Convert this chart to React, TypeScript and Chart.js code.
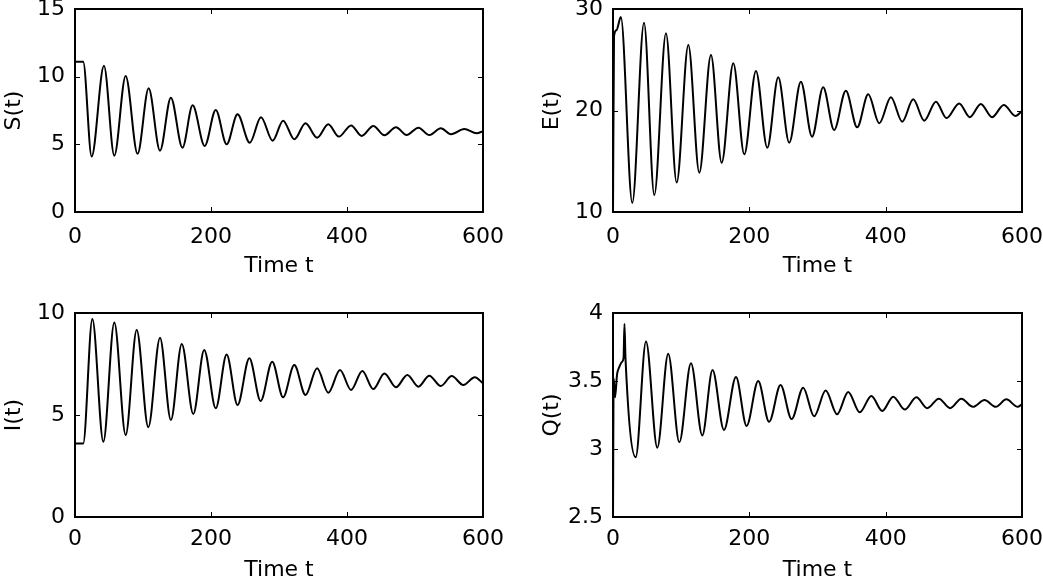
import React, { useEffect, useRef } from "react";
import { Chart, registerables } from "chart.js";

Chart.register(...registerables);

const X_TICKS = [0, 200, 400, 600];

const S_T = [0, 12, 24.5, 42.6, 57.8, 74.5, 92, 108.3, 125, 141, 158, 173, 190.7, 207, 223, 239, 257, 273.5, 290.7, 306, 322.5, 339, 356, 372.5, 388, 406, 421.6, 438.7, 455, 472, 487.7, 505, 521, 538, 553, 572.5, 590.7, 600];
const S_V = [11.1, 11.1, 4.1, 10.8, 4.16, 10.05, 4.3, 9.14, 4.53, 8.45, 4.75, 7.88, 4.88, 7.54, 5.0, 7.22, 5.12, 7.0, 5.27, 6.75, 5.37, 6.56, 5.49, 6.48, 5.57, 6.4, 5.62, 6.36, 5.67, 6.26, 5.69, 6.23, 5.69, 6.18, 5.74, 6.13, 5.81, 5.98];
const S_TICKS = [0, 5, 10, 15];

const E_T = [0, 1.5, 5, 11.5, 28.3, 45.5, 60.6, 77.7, 93.4, 110.5, 126.6, 143.7, 159.4, 176.5, 192.6, 209.7, 226.3, 242.4, 258.5, 275.6, 292, 308.3, 324.4, 341.6, 358.2, 374.4, 390.6, 407.7, 424.3, 440.4, 456.6, 473.7, 489.3, 507.8, 523.5, 539.6, 556, 573.3, 590.5, 600];
const E_V = [10, 27.3, 27.9, 29.2, 10.9, 28.65, 11.67, 27.6, 12.9, 26.45, 13.87, 25.47, 14.86, 24.65, 15.68, 23.9, 16.33, 23.27, 16.83, 22.84, 17.42, 22.28, 18.08, 21.95, 18.34, 21.6, 18.74, 21.3, 18.9, 21.1, 19.0, 20.87, 19.25, 20.7, 19.34, 20.64, 19.34, 20.54, 19.46, 19.95];
const E_TICKS = [10, 20, 30];

const I_T = [0, 12, 25.5, 41.7, 57.8, 74.5, 90.7, 107.8, 125, 141, 157, 174, 190, 207, 223, 239, 256.4, 273, 290, 306, 322.5, 339, 356, 372.5, 389.7, 406, 422.5, 438.7, 455, 472, 488.7, 505, 521, 538, 554, 571, 588, 600];
const I_V = [3.6, 3.6, 9.7, 3.69, 9.53, 4.02, 9.17, 4.4, 8.79, 4.75, 8.48, 5.05, 8.19, 5.33, 7.97, 5.49, 7.78, 5.69, 7.61, 5.87, 7.45, 5.98, 7.29, 6.09, 7.2, 6.23, 7.16, 6.27, 7.04, 6.36, 6.96, 6.39, 6.93, 6.42, 6.91, 6.47, 6.85, 6.55];
const I_TICKS = [0, 5, 10];

const Q_T = [0, 1, 3, 6, 9, 13, 15.5, 16.8, 18.3, 33.3, 48.4, 65, 81, 97.3, 114.4, 131, 146, 162.8, 180.4, 196, 213, 229, 245.8, 262, 279, 295, 312, 328.7, 345, 362, 379, 395, 411, 428, 445, 461, 478, 494.6, 511, 528, 545, 561.6, 577, 593.7, 600];
const Q_V = [2.5, 3.52, 3.38, 3.55, 3.6, 3.64, 3.67, 3.92, 3.67, 2.94, 3.79, 3.01, 3.7, 3.05, 3.63, 3.1, 3.58, 3.14, 3.53, 3.17, 3.5, 3.2, 3.47, 3.22, 3.45, 3.24, 3.43, 3.255, 3.42, 3.27, 3.39, 3.28, 3.385, 3.29, 3.38, 3.3, 3.37, 3.3, 3.37, 3.31, 3.36, 3.31, 3.365, 3.31, 3.33];
const Q_TICKS = [2.5, 3, 3.5, 4];

const FONT = { family: "'DejaVu Sans', sans-serif", size: 22 };

const framePlugin = {
  id: "matlabFrame",
  afterDatasetsDraw(chart: any) {
    const { ctx, chartArea: a, scales } = chart;
    const L = 5;
    ctx.save();
    ctx.strokeStyle = "#000";
    ctx.lineWidth = 1;
    ctx.beginPath();
    scales.x.ticks.forEach((t: any) => {
      const px = Math.round(scales.x.getPixelForValue(t.value)) + 0.5;
      ctx.moveTo(px, a.bottom);
      ctx.lineTo(px, a.bottom - L);
      ctx.moveTo(px, a.top);
      ctx.lineTo(px, a.top + L);
    });
    scales.y.ticks.forEach((t: any) => {
      const py = Math.round(scales.y.getPixelForValue(t.value)) + 0.5;
      ctx.moveTo(a.left, py);
      ctx.lineTo(a.left + L, py);
      ctx.moveTo(a.right, py);
      ctx.lineTo(a.right - L, py);
    });
    ctx.stroke();
    ctx.lineWidth = 2;
    ctx.strokeRect(a.left, a.top, a.right - a.left, a.bottom - a.top);
    ctx.restore();
  },
};

type PanelProps = {
  left: number;
  top: number;
  width: number;
  height: number;
  t: number[];
  v: number[];
  yTicks: number[];
  yLabel: string;
  yWidth: number;
  yTitlePad: number;
  padTop: number;
  padRight: number;
  xHeight: number;
  xTickPad: number;
  xTitlePad: number;
};

function Panel(p: PanelProps) {
  const ref = useRef<HTMLCanvasElement | null>(null);
  useEffect(() => {
    if (!ref.current) return;
    const chart = new Chart(ref.current, {
      type: "line",
      data: {
        datasets: [
          {
            data: p.t.map((x, i) => ({ x, y: p.v[i] })),
            borderColor: "#000",
            borderWidth: 2,
            pointRadius: 0,
            cubicInterpolationMode: "monotone",
            fill: false,
          },
        ],
      },
      options: {
        animation: false,
        responsive: false,
        maintainAspectRatio: false,
        events: [],
        layout: { padding: { left: 0, top: p.padTop, right: p.padRight, bottom: 0 } },
        plugins: { legend: { display: false }, tooltip: { enabled: false } },
        scales: {
          x: {
            type: "linear",
            min: 0,
            max: 600,
            afterBuildTicks: (s: any) => {
              s.ticks = X_TICKS.map((value) => ({ value }));
            },
            grid: { display: false, drawTicks: false },
            border: { display: false },
            ticks: { font: FONT, color: "#000", padding: p.xTickPad, maxRotation: 0, autoSkip: false, callback: (v: any) => String(v) },
            title: { display: true, text: "Time t", font: FONT, color: "#000", padding: { top: 0, bottom: p.xTitlePad } },
            afterFit: (s: any) => {
              s.height = p.xHeight;
              s.paddingLeft = 0;
              s.paddingRight = 0;
            },
          },
          y: {
            type: "linear",
            min: p.yTicks[0],
            max: p.yTicks[p.yTicks.length - 1],
            afterBuildTicks: (s: any) => {
              s.ticks = p.yTicks.map((value) => ({ value }));
            },
            grid: { display: false, drawTicks: false },
            border: { display: false },
            ticks: { font: FONT, color: "#000", padding: 10, autoSkip: false, callback: (v: any) => String(v) },
            title: { display: true, text: p.yLabel, font: FONT, color: "#000", padding: { top: p.yTitlePad, bottom: 0 } },
            afterFit: (s: any) => {
              s.width = p.yWidth;
              s.paddingTop = 0;
              s.paddingBottom = 0;
            },
          },
        },
      } as any,
      plugins: [framePlugin],
    });
    return () => chart.destroy();
  }, []);
  return (
    <canvas
      ref={ref}
      width={p.width}
      height={p.height}
      style={{ position: "absolute", left: p.left, top: p.top, width: p.width, height: p.height, display: "block" }}
    />
  );
}

export default function App() {
  return (
    <div style={{ position: "absolute", left: 0, top: 0, width: 1043, height: 581, overflow: "hidden", background: "#fff" }}>
      <Panel left={0} top={0} width={520} height={290} t={S_T} v={S_V} yTicks={S_TICKS} yLabel="S(t)" yWidth={75} yTitlePad={1} padTop={9} padRight={37} xHeight={78} xTickPad={12} xTitlePad={11} />
      <Panel left={530} top={0} width={513} height={290} t={E_T} v={E_V} yTicks={E_TICKS} yLabel="E(t)" yWidth={83} yTitlePad={9} padTop={9} padRight={21} xHeight={78} xTickPad={12} xTitlePad={11} />
      <Panel left={0} top={290} width={520} height={310} t={I_T} v={I_V} yTicks={I_TICKS} yLabel="I(t)" yWidth={75} yTitlePad={1} padTop={23} padRight={37} xHeight={83} xTickPad={9} xTitlePad={17} />
      <Panel left={530} top={290} width={513} height={310} t={Q_T} v={Q_V} yTicks={Q_TICKS} yLabel="Q(t)" yWidth={83} yTitlePad={9} padTop={23} padRight={21} xHeight={83} xTickPad={9} xTitlePad={17} />
    </div>
  );
}
